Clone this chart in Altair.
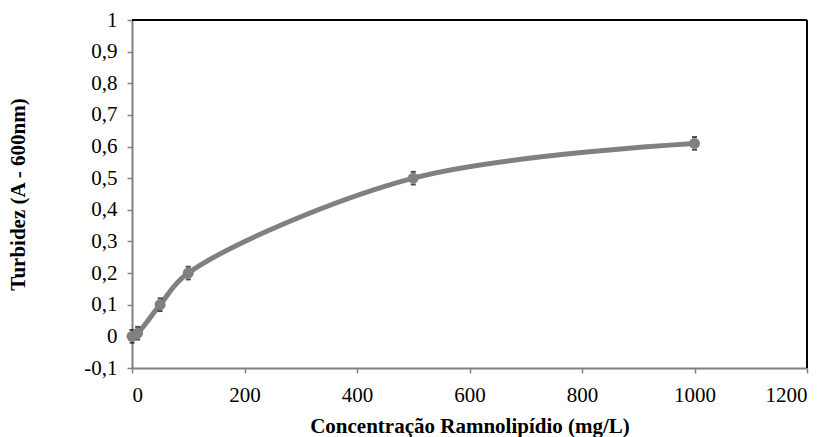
import altair as alt
import pandas as pd

conc = [0, 10, 50, 100, 500, 1000]
turb = [0.0, 0.01, 0.1, 0.2, 0.5, 0.61]
err = [0.02, 0.02, 0.02, 0.02, 0.02, 0.02]

df = pd.DataFrame({"x": conc, "y": turb, "e": err})
df["lo"] = df["y"] - df["e"]
df["hi"] = df["y"] + df["e"]

FONT = "Times New Roman, Liberation Serif, serif"
GRAY = "#808080"

xscale = alt.Scale(domain=[0, 1200], nice=False, zero=False)
yscale = alt.Scale(domain=[-0.1, 1], nice=False, zero=False)

xaxis = alt.Axis(
    title="Concentração Ramnolipídio (mg/L)", values=[0, 200, 400, 600, 800, 1000, 1200],
    format="d", labelOverlap=False, titlePadding=10, labelPadding=11,
    labelFont=FONT, labelFontSize=21, titleFont=FONT, titleFontSize=21,
)
yaxis = alt.Axis(
    title="Turbidez (A - 600nm)",
    values=[-0.1, 0, 0.1, 0.2, 0.3, 0.4, 0.5, 0.6, 0.7, 0.8, 0.9, 1.0],
    labelExpr="replace(replace(format(datum.value, '.1~f'), '.', ','), '\u2212', '-')",
    labelOverlap=False, titlePadding=55, labelPadding=10,
    labelFont=FONT, labelFontSize=21, titleFont=FONT, titleFontSize=21,
)

base = alt.Chart(df)

line = base.mark_line(color=GRAY, strokeWidth=5, interpolate="catmull-rom").encode(
    x=alt.X("x:Q", scale=xscale, axis=xaxis),
    y=alt.Y("y:Q", scale=yscale, axis=yaxis),
)
pts = base.mark_point(filled=True, color=GRAY, size=120, opacity=1, shape="circle").encode(
    x=alt.X("x:Q", scale=xscale, axis=xaxis), y=alt.Y("y:Q", scale=yscale, axis=yaxis)
)
cap_hi = base.mark_tick(color="black", thickness=2, size=5, orient="horizontal").encode(
    x=alt.X("x:Q", scale=xscale, axis=xaxis), y=alt.Y("hi:Q", scale=yscale, axis=yaxis)
)
cap_lo = base.mark_tick(color="black", thickness=2, size=5, orient="horizontal").encode(
    x=alt.X("x:Q", scale=xscale, axis=xaxis), y=alt.Y("lo:Q", scale=yscale, axis=yaxis)
)
frame_top = alt.Chart(pd.DataFrame({"a": [0]})).mark_rule(color="black", strokeWidth=2).encode(
    x=alt.value(0), x2=alt.value(675), y=alt.value(0)
)
frame_right = alt.Chart(pd.DataFrame({"a": [0]})).mark_rule(color="black", strokeWidth=2).encode(
    x=alt.value(675), y=alt.value(0), y2=alt.value(348)
)

chart = alt.layer(frame_top, frame_right, line, cap_hi, cap_lo, pts).properties(
    width=675, height=348,
    autosize=alt.AutoSizeParams(type="none"),
    padding={"left": 132, "top": 20, "right": 23, "bottom": 69},
).configure_view(stroke=None).configure(background="white").configure_axis(
    grid=False, domainColor=GRAY, domainWidth=2, tickColor=GRAY, tickWidth=1.5, tickSize=5,
    labelFont=FONT, labelFontSize=21, labelColor="black", labelOverlap=False,
    titleFont=FONT, titleFontSize=21, titleFontWeight="bold", titleColor="black",
)

chart.save("out.html", embed_options={"renderer": "svg", "actions": False})
